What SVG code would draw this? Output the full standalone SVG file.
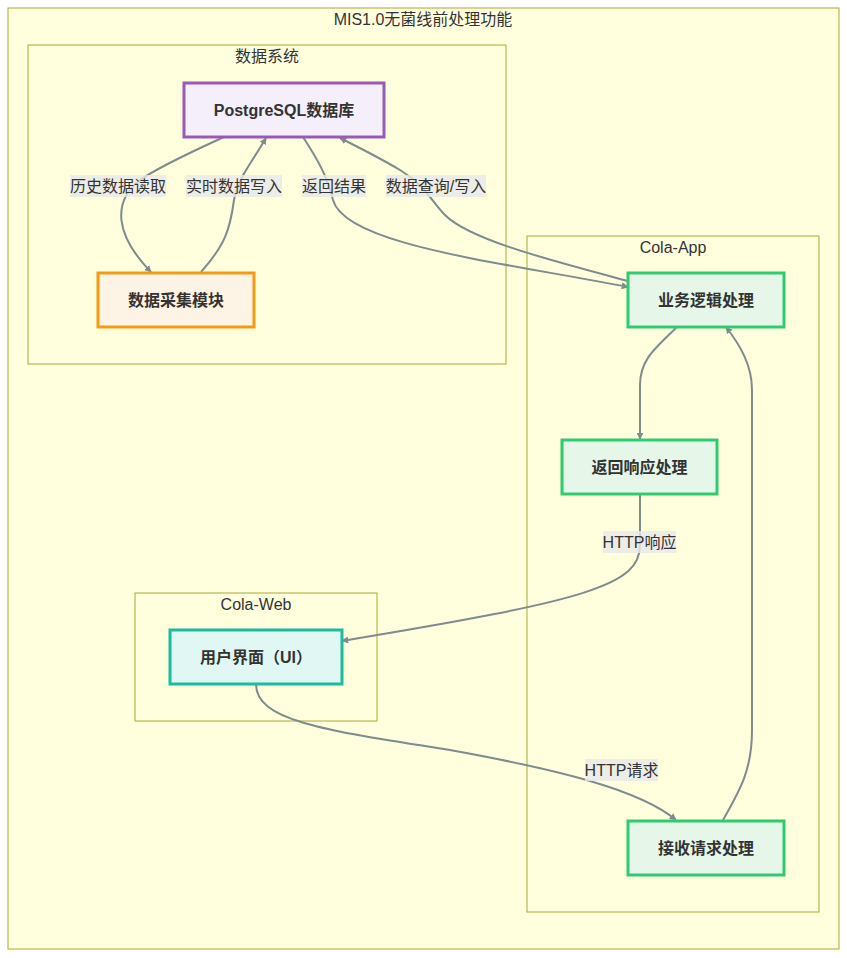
<svg xmlns="http://www.w3.org/2000/svg" width="847" height="958" viewBox="0 0 847 958">
<style>
.cl{fill:#ffffde;stroke:#aaaa33;stroke-width:1}
.ct{font-family:"Liberation Sans","Noto Sans CJK SC",sans-serif;font-size:16px;fill:#333;text-anchor:middle}
.nt{font-family:"Liberation Sans","Noto Sans CJK SC",sans-serif;font-size:16px;font-weight:bold;fill:#333;text-anchor:middle;dominant-baseline:central}
.e{fill:none;stroke:#7f8c8d;stroke-width:2}
.lb{fill:#e8e8e8;opacity:0.8}
.lt{font-family:"Liberation Sans","Noto Sans CJK SC",sans-serif;font-size:16px;fill:#333;text-anchor:middle;dominant-baseline:central}
</style>
<defs>
<marker id="ah" viewBox="0 0 10 10" refX="9" refY="5" markerWidth="7" markerHeight="7" orient="auto" markerUnits="userSpaceOnUse">
<path d="M0,0 L10,5 L0,10 z" fill="#7f8c8d"/>
</marker>
</defs>
<rect width="847" height="958" fill="#ffffff"/>
<g id="cluster-main">
<rect class="cl" x="8" y="8" width="831" height="941"/>
<text class="ct" x="423" y="25">MIS1.0无菌线前处理功能</text>
</g>
<g id="cluster-data">
<rect class="cl" x="28" y="45" width="478" height="319"/>
<text class="ct" x="267" y="62">数据系统</text>
</g>
<g id="cluster-app">
<rect class="cl" x="527" y="236" width="292" height="676"/>
<text class="ct" x="673" y="253">Cola-App</text>
</g>
<g id="cluster-web">
<rect class="cl" x="135" y="593" width="242" height="128"/>
<text class="ct" x="256" y="610">Cola-Web</text>
</g>
<g id="edges">
<path class="e" d="M224,137 C200,148 160,166 140,180 C112,202 115,235 151,272" marker-end="url(#ah)"/>
<path class="e" d="M201,272 C225,245 230,230 234,200 C237,180 250,165 266,138" marker-end="url(#ah)"/>
<path class="e" d="M303,137 C318,160 328,178 333,200 C345,245 500,262 628,287" marker-end="url(#ah)"/>
<path class="e" d="M628,281 C550,260 470,240 445,215 C432,202 425,185 400,170 C380,158 360,148 340,138" marker-end="url(#ah)"/>
<path class="e" d="M677,327 C655,348 640,360 640,385 L640,439" marker-end="url(#ah)"/>
<path class="e" d="M640,494 L640,545 C640,585 590,600 342,641" marker-end="url(#ah)"/>
<path class="e" d="M256,684 C256,720 320,730 450,750 C560,770 640,790 676,820" marker-end="url(#ah)"/>
<path class="e" d="M723,820 C740,790 752,770 752,730 L752,390 C752,365 740,345 726,327" marker-end="url(#ah)"/>
<rect class="lb" x="70" y="175" width="96" height="22"/>
<text class="lt" x="118" y="186">历史数据读取</text>
<rect class="lb" x="186" y="175" width="96" height="22"/>
<text class="lt" x="234" y="186">实时数据写入</text>
<rect class="lb" x="302" y="175" width="64" height="22"/>
<text class="lt" x="334" y="186">返回结果</text>
<rect class="lb" x="386" y="175" width="100" height="22"/>
<text class="lt" x="436" y="186">数据查询/写入</text>
<rect class="lb" x="603" y="531" width="73" height="22"/>
<text class="lt" x="639.5" y="542">HTTP响应</text>
<rect class="lb" x="585" y="759" width="73" height="22"/>
<text class="lt" x="621.5" y="770">HTTP请求</text>
</g>
<g id="node-postgres">
<rect x="184" y="83" width="200" height="54" fill="#f4effb" stroke="#9b59b6" stroke-width="3"/>
<text class="nt" x="284" y="110">PostgreSQL数据库</text>
</g>
<g id="node-collect">
<rect x="98" y="273" width="156" height="54" fill="#fdf4e6" stroke="#f39c12" stroke-width="3"/>
<text class="nt" x="176" y="300">数据采集模块</text>
</g>
<g id="node-logic">
<rect x="628" y="273" width="156" height="54" fill="#e6f7e9" stroke="#2ecc71" stroke-width="3"/>
<text class="nt" x="706" y="300">业务逻辑处理</text>
</g>
<g id="node-response">
<rect x="562" y="440" width="155" height="54" fill="#e6f7e9" stroke="#2ecc71" stroke-width="3"/>
<text class="nt" x="639.5" y="467">返回响应处理</text>
</g>
<g id="node-request">
<rect x="628" y="821" width="156" height="54" fill="#e6f7e9" stroke="#2ecc71" stroke-width="3"/>
<text class="nt" x="706" y="848">接收请求处理</text>
</g>
<g id="node-ui">
<rect x="170" y="630" width="172" height="54" fill="#e0f7f4" stroke="#1abc9c" stroke-width="3"/>
<text class="nt" x="256" y="657">用户界面（UI）</text>
</g>
</svg>
